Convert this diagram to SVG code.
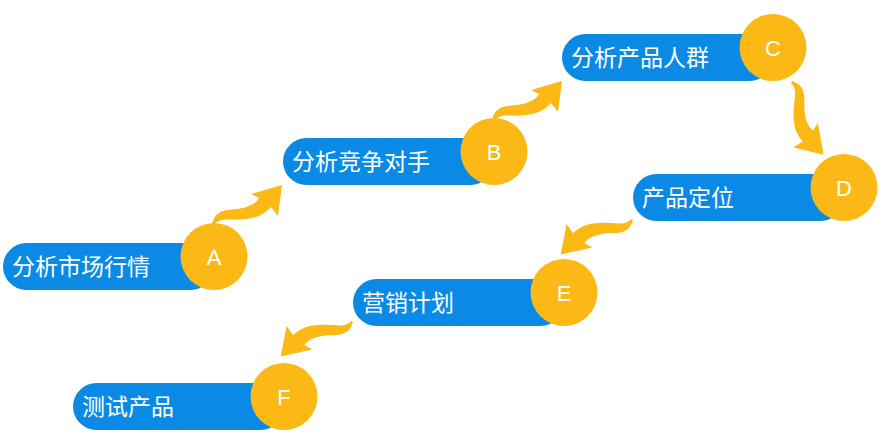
<svg xmlns="http://www.w3.org/2000/svg" width="894" height="441" viewBox="0 0 894 441">
<style>
.pill{fill:#0b8ae5}
.dot{fill:#fcb814}
.lbl{font-family:"Noto Sans CJK SC","Liberation Sans",sans-serif;font-size:23px;fill:#ffffff}
.let{font-family:"Liberation Sans","DejaVu Sans",sans-serif;font-size:22px;fill:#ffffff;text-anchor:middle}
.arr{fill:#fcb814}
</style>
<defs>
<path id="arrow" d="M212,224 C214,215 219,211 228,210 C238,209 246,208 253,204 C256,202 258,200 259,198 L251,194 L282,185 L278,216 L271,207 C265,214 257,218 246,219 C236,220 228,219 222,220 C218,221 215,223 214,225 Z"/>
</defs>
<rect width="894" height="441" fill="#ffffff"/>
<g id="connectors">
<use href="#arrow" class="arr"/>
<use href="#arrow" class="arr" transform="translate(280,-104)"/>
<use href="#arrow" class="arr" transform="translate(792,82) rotate(96) translate(-213,-224)"/>
<use href="#arrow" class="arr" transform="translate(632,220) rotate(183.6) translate(-213,-224)"/>
<use href="#arrow" class="arr" transform="translate(352,322) rotate(183.6) translate(-213,-224)"/>
</g>
<g id="nodeA">
<rect class="pill" x="3" y="243" width="211" height="47" rx="23.5"/>
<circle class="dot" cx="214" cy="256.5" r="33.5"/>
<text class="lbl" x="12" y="275">分析市场行情</text>
<text class="let" x="214" y="264.5">A</text>
</g>
<g id="nodeB">
<rect class="pill" x="283" y="138" width="211" height="47" rx="23.5"/>
<circle class="dot" cx="494" cy="151.5" r="33.5"/>
<text class="lbl" x="292" y="170">分析竞争对手</text>
<text class="let" x="494" y="159.5">B</text>
</g>
<g id="nodeC">
<rect class="pill" x="562" y="34" width="211" height="47" rx="23.5"/>
<circle class="dot" cx="773" cy="47.5" r="33.5"/>
<text class="lbl" x="571" y="66">分析产品人群</text>
<text class="let" x="773" y="55.5">C</text>
</g>
<g id="nodeD">
<rect class="pill" x="633" y="174" width="211" height="47" rx="23.5"/>
<circle class="dot" cx="844" cy="187.5" r="33.5"/>
<text class="lbl" x="642" y="206">产品定位</text>
<text class="let" x="844" y="195.5">D</text>
</g>
<g id="nodeE">
<rect class="pill" x="353" y="279" width="211" height="47" rx="23.5"/>
<circle class="dot" cx="564" cy="292.5" r="33.5"/>
<text class="lbl" x="362" y="311">营销计划</text>
<text class="let" x="564" y="300.5">E</text>
</g>
<g id="nodeF">
<rect class="pill" x="73" y="383" width="211" height="47" rx="23.5"/>
<circle class="dot" cx="284" cy="396.5" r="33.5"/>
<text class="lbl" x="82" y="415">测试产品</text>
<text class="let" x="284" y="404.5">F</text>
</g>
</svg>
